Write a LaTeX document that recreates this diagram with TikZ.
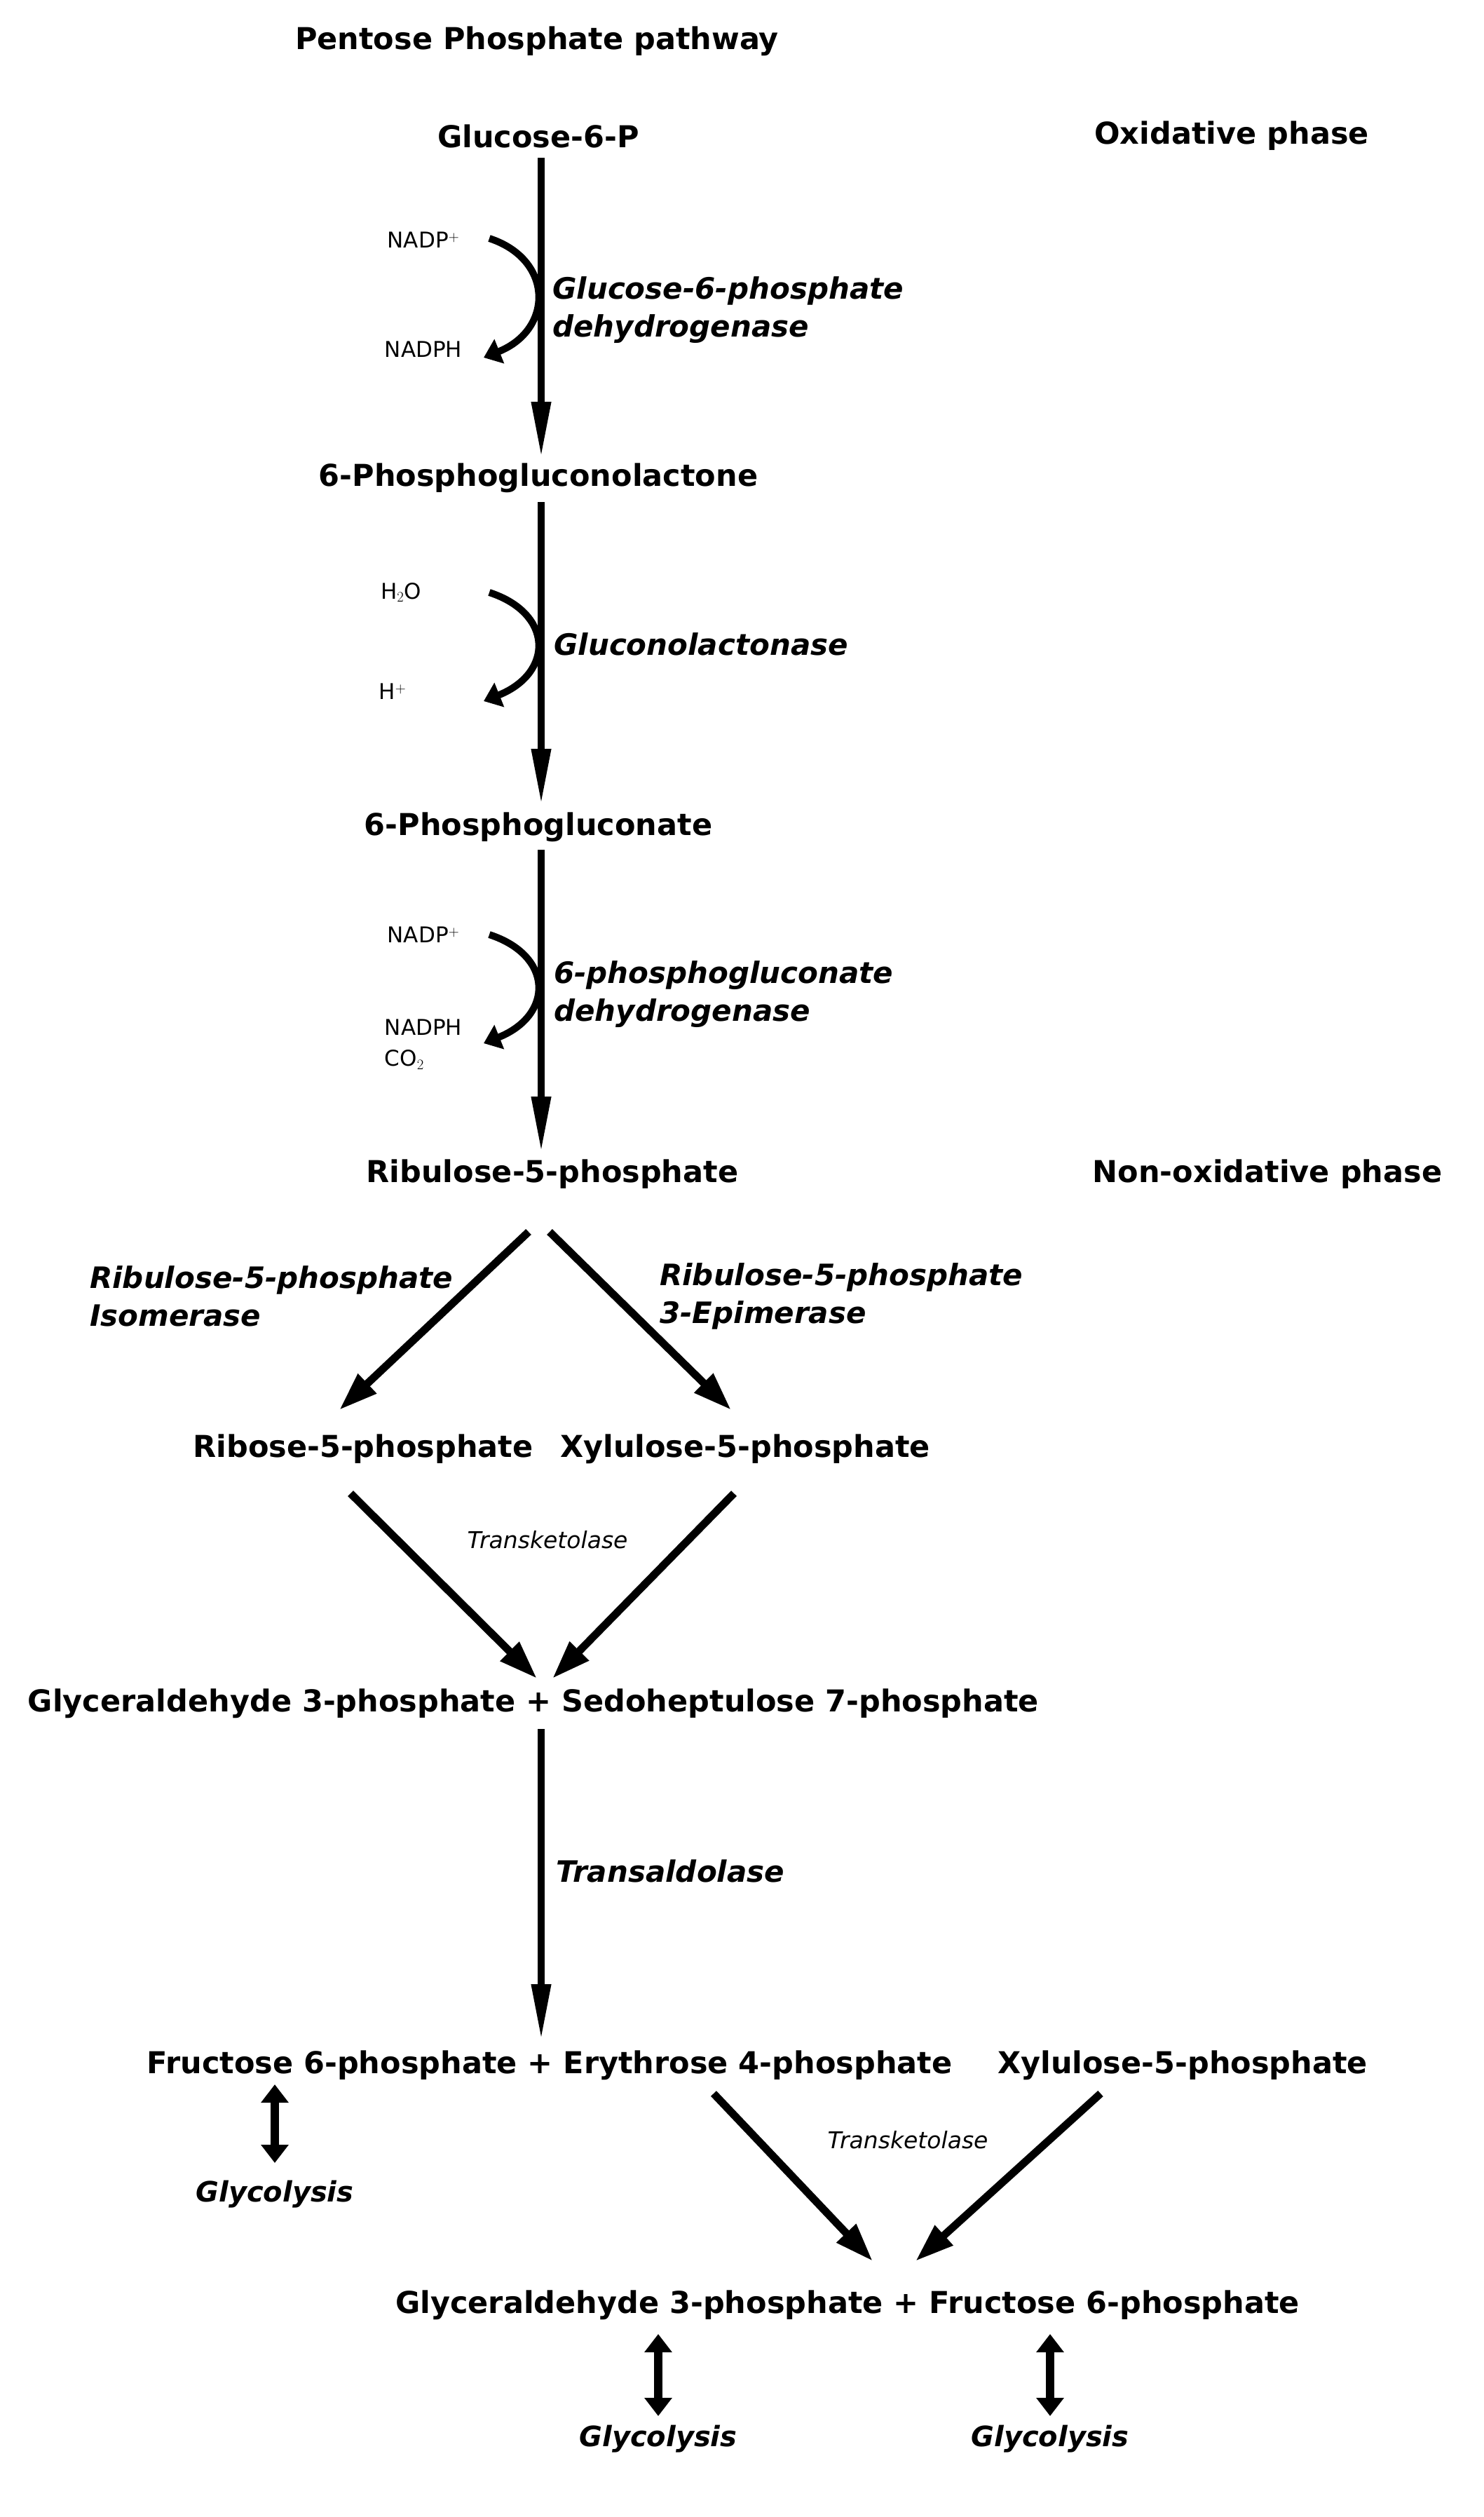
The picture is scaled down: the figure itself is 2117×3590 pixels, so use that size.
\documentclass[tikz,border=0pt]{standalone}
\usepackage{fontspec}
\setmainfont{DejaVu Sans}
\usetikzlibrary{arrows.meta}
\begin{document}
\begin{tikzpicture}[x=1pt,y=-1pt,
  met/.style={font=\fontsize{43}{50}\selectfont\bfseries, inner sep=2pt},
  enz/.style={font=\fontsize{42}{54}\selectfont\bfseries\itshape, align=left, anchor=west, inner sep=0pt},
  cof/.style={font=\fontsize{31}{44}\selectfont, inner sep=0pt},
  small/.style={font=\fontsize{33}{40}\selectfont\itshape, inner sep=0pt},
  main/.style={line width=10pt, -{Triangle[length=80pt,width=26pt]}},
  diag/.style={line width=11pt, -{Triangle[length=55pt,width=36pt]}},
  curv/.style={line width=10pt, -{Triangle[length=24pt,width=36pt]}},
  dbl/.style={line width=12pt, {Triangle[length=26pt,width=38pt]}-{Triangle[length=26pt,width=38pt]}}]
\useasboundingbox[fill=white] (0,0) rectangle (2117,3590);
\node[met] (title) at (766,59) {Pentose Phosphate pathway};
\node[met] (g6p) at (768,194) {Glucose-6-P};
\node[met] (ox) at (1757,194) {Oxidative phase};
\node[met] (pgl) at (768,682) {6-Phosphogluconolactone};
\node[met] (pg) at (768,1180) {6-Phosphogluconate};
\node[met] (ru5p) at (788,1675) {Ribulose-5-phosphate};
\node[met] (nonox) at (1808,1675) {Non-oxidative phase};
\node[met] (r5p) at (518,2067) {Ribose-5-phosphate};
\node[met] (x5p) at (1063,2067) {Xylulose-5-phosphate};
\node[met] (gs) at (761,2430) {Glyceraldehyde 3-phosphate + Sedoheptulose 7-phosphate};
\node[met] (fe) at (784,2946) {Fructose 6-phosphate + Erythrose 4-phosphate};
\node[met] (x5pb) at (1687,2946) {Xylulose-5-phosphate};
\node[met] (gf) at (1209,3288) {Glyceraldehyde 3-phosphate + Fructose 6-phosphate};
\node[met,font=\fontsize{40}{48}\selectfont\bfseries\itshape] (gly1) at (392,3130) {Glycolysis};
\node[met,font=\fontsize{40}{48}\selectfont\bfseries\itshape] (gly2) at (939,3479) {Glycolysis};
\node[met,font=\fontsize{40}{48}\selectfont\bfseries\itshape] (gly3) at (1498,3479) {Glycolysis};
% cofactors
\node[cof] (nadp1) at (604,342) {NADP$^+$};
\node[cof] (nadph1) at (604,498) {NADPH};
\node[cof] (h2o) at (572,845) {H$_2$O};
\node[cof] (hp) at (560,986) {H$^+$};
\node[cof] (nadp2) at (604,1333) {NADP$^+$};
\node[cof,align=left] (nadph2) at (604,1490) {NADPH\\CO$_2$};
% enzymes
\node[enz] (e1) at (788,442) {Glucose-6-phosphate\\dehydrogenase};
\node[enz] (e2) at (790,919) {Gluconolactonase};
\node[enz] (e3) at (790,1418) {6-phosphogluconate\\dehydrogenase};
\node[enz] (e4) at (128,1849) {Ribulose-5-phosphate\\Isomerase};
\node[enz] (e5) at (941,1849) {Ribulose-5-phosphate\\3-Epimerase};
\node[small] (tk1) at (781,2196) {Transketolase};
\node[enz] (e6) at (793,2669) {Transaldolase};
\node[small] (tk2) at (1295,3052) {Transketolase};
% coordinates
\coordinate (a1s) at (772,225); \coordinate (a1e) at (772,653);
\coordinate (a2s) at (772,716); \coordinate (a2e) at (772,1148);
\coordinate (a3s) at (772,1212); \coordinate (a3e) at (772,1644);
\coordinate (c1s) at (698,340); \coordinate (c1e) at (690,510);
\coordinate (c2s) at (698,845); \coordinate (c2e) at (690,1000);
\coordinate (c3s) at (698,1333); \coordinate (c3e) at (690,1488);
\draw[main] (a1s) -- (a1e);
\draw[main] (a2s) -- (a2e);
\draw[main] (a3s) -- (a3e);
\draw[curv] (c1s) .. controls (790,370) and (790,470) .. (c1e);
\draw[curv] (c2s) .. controls (790,875) and (790,960) .. (c2e);
\draw[curv] (c3s) .. controls (790,1363) and (790,1448) .. (c3e);
\coordinate (d1s) at (754,1757); \coordinate (d1e) at (484,2011);
\coordinate (d2s) at (784,1757); \coordinate (d2e) at (1043,2011);
\coordinate (d3s) at (500,2130); \coordinate (d3e) at (766,2394);
\coordinate (d4s) at (1047,2130); \coordinate (d4e) at (788,2394);
\coordinate (t1s) at (772,2466); \coordinate (t1e) at (772,2910);
\coordinate (d5s) at (1018,2986); \coordinate (d5e) at (1245,3225);
\coordinate (d6s) at (1570,2986); \coordinate (d6e) at (1306,3225);
\draw[diag] (d1s) -- (d1e);
\draw[diag] (d2s) -- (d2e);
\draw[diag] (d3s) -- (d3e);
\draw[diag] (d4s) -- (d4e);
\draw[main] (t1s) -- (t1e);
\draw[diag] (d5s) -- (d5e);
\draw[diag] (d6s) -- (d6e);
\coordinate (b1s) at (392,2973); \coordinate (b1e) at (392,3085);
\coordinate (b2s) at (939,3329); \coordinate (b2e) at (939,3446);
\coordinate (b3s) at (1498,3329); \coordinate (b3e) at (1498,3446);
\draw[dbl] (b1s) -- (b1e);
\draw[dbl] (b2s) -- (b2e);
\draw[dbl] (b3s) -- (b3e);
\end{tikzpicture}
\end{document}
